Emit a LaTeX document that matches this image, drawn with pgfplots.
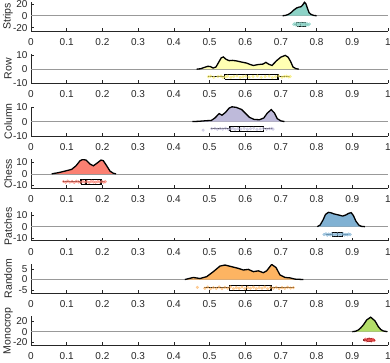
\documentclass[border=0pt]{standalone}
\usepackage{pgfplots}
\pgfplotsset{compat=1.18}
\usepackage{fontspec}
\setmainfont{Liberation Sans}
\definecolor{cA}{RGB}{141,211,199}
\definecolor{cB}{RGB}{255,255,179}
\definecolor{cBd}{RGB}{245,235,110}
\definecolor{cC}{RGB}{190,186,218}
\definecolor{cD}{RGB}{251,128,114}
\definecolor{cE}{RGB}{128,177,211}
\definecolor{cF}{RGB}{253,180,98}
\definecolor{cG}{RGB}{179,222,105}
\definecolor{cH}{RGB}{228,26,28}
\definecolor{axc}{RGB}{38,38,38}
\pgfplotsset{
  rc/.style={
    scale only axis, width=357pt, height=29pt,
    xmin=0, xmax=1,
    axis x line=bottom, axis y line=left,
    axis line style={-, draw=axc, line width=0.5pt},
    tick align=inside, major tick length=3pt,
    tick style={draw=axc, line width=0.5pt},
    xtick={0,0.1,0.2,0.3,0.4,0.5,0.6,0.7,0.8,0.9,1},
    xticklabels={0,0.1,0.2,0.3,0.4,0.5,0.6,0.7,0.8,0.9,1},
    tick label style={font=\fontsize{10}{12}\selectfont, text=axc},
    xticklabel style={yshift=-4pt},
    every axis y label/.style={at={(axis description cs:0,0.5)}, xshift=-23pt, rotate=90, anchor=center, font=\fontsize{10.5}{12}\selectfont, text=axc},
    anchor=south west,
  },
  zl/.style={gray!80, line width=0.6pt, forget plot},
  dens/.style={black, line width=1.3pt},
  bx/.style={black, line width=1.1pt},
  drp/.style={only marks, mark=*, mark size=1.4pt, opacity=0.6},
}
\begin{document}
\begin{tikzpicture}
\useasboundingbox (0pt,0pt) rectangle (390pt,362pt);
% ---------------- Strips
\begin{axis}[rc, at={(31pt,331pt)}, ymin=-25.5, ymax=23, ytick={-20,0,20}, yticklabels={-20,0,20}, ylabel={Strips}]
\addplot[zl] coordinates {(0,0) (1,0)};
\addplot[fill=cA, draw=none] coordinates {(0.705,0)(0.712,0.5)(0.720,2)(0.728,5)(0.736,9.5)(0.744,13)(0.751,14.5)(0.756,15)(0.761,18)(0.766,22.5)(0.770,20)(0.774,13)(0.779,5)(0.785,2)(0.792,0.6)(0.800,0)} \closedcycle;
\addplot[dens] coordinates {(0.705,0)(0.712,0.5)(0.720,2)(0.728,5)(0.736,9.5)(0.744,13)(0.751,14.5)(0.756,15)(0.761,18)(0.766,22.5)(0.770,20)(0.774,13)(0.779,5)(0.785,2)(0.792,0.6)(0.800,0)};
\addplot[drp, cA] coordinates {(0.736,-14.5)(0.739,-13)(0.742,-15.5)(0.745,-12.5)(0.748,-16)(0.750,-14)(0.752,-13)(0.755,-15)(0.757,-12.5)(0.759,-16)(0.761,-14)(0.763,-13.5)(0.765,-15.5)(0.767,-12.8)(0.769,-14.8)(0.771,-16)(0.773,-13.2)(0.775,-14.6)(0.777,-15.2)(0.780,-13.8)};
\addplot[bx] coordinates {(0.736,-14.3)(0.744,-14.3)};
\addplot[bx] coordinates {(0.769,-14.3)(0.777,-14.3)};
\addplot[bx, fill=white] coordinates {(0.744,-17.5)(0.769,-17.5)(0.769,-11)(0.744,-11)(0.744,-17.5)};
\addplot[bx] coordinates {(0.756,-17.5)(0.756,-11)};
\end{axis}
% ---------------- Row
\begin{axis}[rc, at={(31pt,278.6pt)}, ymin=-10, ymax=10.4, ytick={-10,0,10}, yticklabels={-10,0,10}, ylabel={Row}]
\addplot[zl] coordinates {(0,0) (1,0)};
\addplot[fill=cB, draw=none] coordinates {(0.464,0)(0.475,0.3)(0.485,1.2)(0.495,2.0)(0.502,1.9)(0.510,0.8)(0.518,1.5)(0.526,5)(0.533,8)(0.539,8.6)(0.546,7)(0.555,6)(0.565,6.2)(0.576,5.8)(0.590,5)(0.604,4.3)(0.615,3.2)(0.623,2.6)(0.635,3.2)(0.650,3.6)(0.658,4.8)(0.666,3.5)(0.675,2.6)(0.688,6)(0.700,8.5)(0.712,9.7)(0.720,8.5)(0.727,5.5)(0.734,1.5)(0.742,0.4)(0.750,0)} \closedcycle;
\addplot[dens] coordinates {(0.464,0)(0.475,0.3)(0.485,1.2)(0.495,2.0)(0.502,1.9)(0.510,0.8)(0.518,1.5)(0.526,5)(0.533,8)(0.539,8.6)(0.546,7)(0.555,6)(0.565,6.2)(0.576,5.8)(0.590,5)(0.604,4.3)(0.615,3.2)(0.623,2.6)(0.635,3.2)(0.650,3.6)(0.658,4.8)(0.666,3.5)(0.675,2.6)(0.688,6)(0.700,8.5)(0.712,9.7)(0.720,8.5)(0.727,5.5)(0.734,1.5)(0.742,0.4)(0.750,0)};
\addplot[drp, cBd] coordinates {(0.497,-5.3)(0.503,-4.9)(0.512,-5.7)(0.524,-5.1)(0.532,-4.8)(0.538,-5.8)(0.545,-5.4)(0.551,-4.9)(0.560,-5.7)(0.568,-5.1)(0.577,-4.8)(0.586,-5.8)(0.594,-5.3)(0.602,-4.9)(0.611,-5.6)(0.622,-5.2)(0.634,-4.8)(0.645,-5.7)(0.656,-5.2)(0.667,-4.9)(0.676,-5.8)(0.685,-5.3)(0.694,-4.8)(0.703,-5.6)(0.710,-5.1)(0.716,-4.9)(0.722,-5.5)(0.726,-5.2)};
\addplot[bx] coordinates {(0.497,-5.3)(0.5425,-5.3)};
\addplot[bx] coordinates {(0.6919,-5.3)(0.7255,-5.3)};
\addplot[bx] coordinates {(0.5425,-7.1)(0.6919,-7.1)(0.6919,-3.5)(0.5425,-3.5)(0.5425,-7.1)};
\addplot[bx] coordinates {(0.607,-7.1)(0.607,-3.5)};
\end{axis}
% ---------------- Column
\begin{axis}[rc, at={(31pt,226.2pt)}, ymin=-10, ymax=10.4, ytick={-10,0,10}, yticklabels={-10,0,10}, ylabel={Column}]
\addplot[zl] coordinates {(0,0) (1,0)};
\addplot[fill=cC, draw=none] coordinates {(0.452,0)(0.47,0.2)(0.49,0.6)(0.505,0.8)(0.515,2.5)(0.527,5.6)(0.535,4.5)(0.545,6.5)(0.555,9.5)(0.563,10.4)(0.575,10)(0.59,8.5)(0.60,6)(0.612,3)(0.625,1.5)(0.64,1.3)(0.652,2.5)(0.662,6)(0.673,8.4)(0.682,6)(0.69,2)(0.70,0.5)(0.71,0)} \closedcycle;
\addplot[dens] coordinates {(0.452,0)(0.47,0.2)(0.49,0.6)(0.505,0.8)(0.515,2.5)(0.527,5.6)(0.535,4.5)(0.545,6.5)(0.555,9.5)(0.563,10.4)(0.575,10)(0.59,8.5)(0.60,6)(0.612,3)(0.625,1.5)(0.64,1.3)(0.652,2.5)(0.662,6)(0.673,8.4)(0.682,6)(0.69,2)(0.70,0.5)(0.71,0)};
\addplot[drp, cC] coordinates {(0.482,-6)(0.506,-5)(0.515,-4.8)(0.522,-5.4)(0.530,-4.9)(0.537,-5.3)(0.545,-4.7)(0.553,-5.5)(0.560,-5)(0.566,-4.7)(0.572,-5.5)(0.580,-4.9)(0.588,-5.3)(0.597,-4.8)(0.606,-5.4)(0.615,-5)(0.624,-4.7)(0.633,-5.5)(0.642,-5.2)(0.651,-4.8)(0.660,-5.4)(0.668,-5)(0.674,-4.8)(0.678,-5.3)};
\addplot[bx] coordinates {(0.5029,-5.1)(0.5574,-5.1)};
\addplot[bx] coordinates {(0.6508,-5.1)(0.679,-5.1)};
\addplot[bx] coordinates {(0.5574,-6.8)(0.6508,-6.8)(0.6508,-3.5)(0.5574,-3.5)(0.5574,-6.8)};
\addplot[bx] coordinates {(0.5835,-6.8)(0.5835,-3.5)};
\end{axis}
% ---------------- Chess
\begin{axis}[rc, at={(31pt,173.8pt)}, ymin=-12.5, ymax=12.75, ytick={-10,0,10}, yticklabels={-10,0,10}, ylabel={Chess}]
\addplot[zl] coordinates {(0,0) (1,0)};
\addplot[fill=cD, draw=none] coordinates {(0.058,0)(0.0765,1.0)(0.0952,2.4)(0.1139,3.9)(0.1261,7)(0.1373,11.4)(0.1447,12.5)(0.1541,12)(0.1653,8.5)(0.1747,7)(0.1840,9.1)(0.1961,12)(0.2027,11.4)(0.2120,7)(0.2213,2.4)(0.2307,0.5)(0.2382,0)} \closedcycle;
\addplot[dens] coordinates {(0.058,0)(0.0765,1.0)(0.0952,2.4)(0.1139,3.9)(0.1261,7)(0.1373,11.4)(0.1447,12.5)(0.1541,12)(0.1653,8.5)(0.1747,7)(0.1840,9.1)(0.1961,12)(0.2027,11.4)(0.2120,7)(0.2213,2.4)(0.2307,0.5)(0.2382,0)};
\addplot[drp, cD] coordinates {(0.091,-6.7)(0.097,-7.3)(0.103,-6.3)(0.109,-7.2)(0.115,-6.6)(0.121,-7.5)(0.127,-6.4)(0.133,-7)(0.139,-7.4)(0.145,-6.5)(0.151,-7.2)(0.157,-6.7)(0.163,-7.5)(0.169,-6.4)(0.175,-7)(0.181,-7.3)(0.187,-6.6)(0.193,-7.1)(0.199,-6.7)(0.204,-7.3)(0.208,-6.8)};
\addplot[bx] coordinates {(0.0905,-6.9)(0.140,-6.9)};
\addplot[bx] coordinates {(0.196,-6.9)(0.2073,-6.9)};
\addplot[bx] coordinates {(0.140,-8.9)(0.196,-8.9)(0.196,-5.0)(0.140,-5.0)(0.140,-8.9)};
\addplot[bx] coordinates {(0.154,-8.9)(0.154,-5.0)};
\end{axis}
% ---------------- Patches
\begin{axis}[rc, at={(31pt,121.4pt)}, ymin=-12.5, ymax=13.5, ytick={-10,0,10}, yticklabels={-10,0,10}, ylabel={Patches}]
\addplot[zl] coordinates {(0,0) (1,0)};
\addplot[fill=cE, draw=none] coordinates {(0.802,0)(0.810,1.5)(0.818,6)(0.825,11)(0.833,12.8)(0.840,12.5)(0.848,11.5)(0.857,10.8)(0.865,10.2)(0.873,9.5)(0.882,10.5)(0.890,12)(0.897,12.5)(0.903,10)(0.910,5)(0.918,1.5)(0.925,0.3)(0.935,0)} \closedcycle;
\addplot[dens] coordinates {(0.802,0)(0.810,1.5)(0.818,6)(0.825,11)(0.833,12.8)(0.840,12.5)(0.848,11.5)(0.857,10.8)(0.865,10.2)(0.873,9.5)(0.882,10.5)(0.890,12)(0.897,12.5)(0.903,10)(0.910,5)(0.918,1.5)(0.925,0.3)(0.935,0)};
\addplot[drp, cE] coordinates {(0.821,-7)(0.826,-6.4)(0.830,-7.6)(0.834,-6.6)(0.838,-7.4)(0.842,-6.3)(0.846,-7.5)(0.850,-6.8)(0.854,-7.3)(0.858,-6.5)(0.862,-7.5)(0.866,-6.7)(0.870,-7.2)(0.874,-6.4)(0.878,-7.5)(0.882,-6.9)(0.886,-7.3)(0.890,-6.6)(0.894,-7.1)};
\addplot[bx] coordinates {(0.8268,-7)(0.8436,-7)};
\addplot[bx] coordinates {(0.872,-7)(0.8889,-7)};
\addplot[bx] coordinates {(0.8436,-8.8)(0.872,-8.8)(0.872,-5.2)(0.8436,-5.2)(0.8436,-8.8)};
\addplot[bx] coordinates {(0.858,-8.8)(0.858,-5.2)};
\end{axis}
% ---------------- Random
\begin{axis}[rc, at={(31pt,69pt)}, ymin=-6.5, ymax=7.5, ytick={-5,0,5}, yticklabels={-5,0,5}, ylabel={Random}]
\addplot[zl] coordinates {(0,0) (1,0)};
\addplot[fill=cF, draw=none] coordinates {(0.431,0)(0.4547,1.0)(0.4734,0.5)(0.4921,1.4)(0.5107,3.8)(0.5294,6.5)(0.5434,7.0)(0.5621,6.2)(0.5808,5.4)(0.5948,4.6)(0.6088,4.9)(0.6228,3.8)(0.6368,4.2)(0.6508,3.3)(0.6601,4.2)(0.6741,7.3)(0.6863,5.8)(0.6975,2.2)(0.7115,1.0)(0.7255,0.8)(0.7395,0.2)(0.763,0)} \closedcycle;
\addplot[dens] coordinates {(0.431,0)(0.4547,1.0)(0.4734,0.5)(0.4921,1.4)(0.5107,3.8)(0.5294,6.5)(0.5434,7.0)(0.5621,6.2)(0.5808,5.4)(0.5948,4.6)(0.6088,4.9)(0.6228,3.8)(0.6368,4.2)(0.6508,3.3)(0.6601,4.2)(0.6741,7.3)(0.6863,5.8)(0.6975,2.2)(0.7115,1.0)(0.7255,0.8)(0.7395,0.2)(0.763,0)};
\addplot[drp, cF] coordinates {(0.466,-3.8)(0.487,-4.2)(0.495,-3.6)(0.503,-4.4)(0.511,-3.9)(0.519,-4.3)(0.527,-3.6)(0.535,-4.4)(0.543,-3.8)(0.551,-4.2)(0.559,-3.6)(0.567,-4.4)(0.575,-3.9)(0.583,-4.2)(0.591,-3.6)(0.599,-4.4)(0.607,-3.8)(0.615,-4.2)(0.623,-3.7)(0.631,-4.4)(0.639,-3.9)(0.647,-4.2)(0.655,-3.6)(0.663,-4.4)(0.671,-3.8)(0.679,-4.2)(0.687,-3.7)(0.695,-4.4)(0.703,-3.9)(0.711,-4.2)(0.719,-3.7)(0.727,-4.1)(0.735,-3.9)};
\addplot[bx] coordinates {(0.4855,-4)(0.5556,-4)};
\addplot[bx] coordinates {(0.6723,-4)(0.7367,-4)};
\addplot[bx] coordinates {(0.5556,-5.2)(0.6723,-5.2)(0.6723,-2.8)(0.5556,-2.8)(0.5556,-5.2)};
\addplot[bx] coordinates {(0.6041,-5.2)(0.6041,-2.8)};
\end{axis}
% ---------------- Monocrop
\begin{axis}[rc, at={(31pt,16.6pt)}, ymin=-26.5, ymax=29.5, ytick={-20,0,20}, yticklabels={-20,0,20}, ylabel={Monocrop}]
\addplot[zl] coordinates {(0,0) (1,0)};
\addplot[fill=cG, draw=none] coordinates {(0.900,0)(0.909,0.8)(0.9169,3.3)(0.9239,7.5)(0.9309,13)(0.9403,22.7)(0.9515,28)(0.9636,20.8)(0.9729,9.7)(0.980,4)(0.9869,1.4)(0.998,0)} \closedcycle;
\addplot[dens] coordinates {(0.900,0)(0.909,0.8)(0.9169,3.3)(0.9239,7.5)(0.9309,13)(0.9403,22.7)(0.9515,28)(0.9636,20.8)(0.9729,9.7)(0.980,4)(0.9869,1.4)(0.998,0)};
\addplot[drp, cH!80] coordinates {(0.934,-16)(0.937,-14.5)(0.940,-17.5)(0.943,-15)(0.945,-17)(0.947,-14)(0.949,-16.5)(0.951,-15)(0.953,-17.8)(0.955,-14.6)(0.957,-16.4)(0.959,-15.2)(0.961,-17)};
\addplot[bx] coordinates {(0.931,-16)(0.943,-16)};
\addplot[bx] coordinates {(0.955,-16)(0.964,-16)};
\addplot[bx] coordinates {(0.943,-19.5)(0.955,-19.5)(0.955,-12.5)(0.943,-12.5)(0.943,-19.5)};
\addplot[bx] coordinates {(0.950,-19.5)(0.950,-12.5)};
\end{axis}
\end{tikzpicture}
\end{document}
